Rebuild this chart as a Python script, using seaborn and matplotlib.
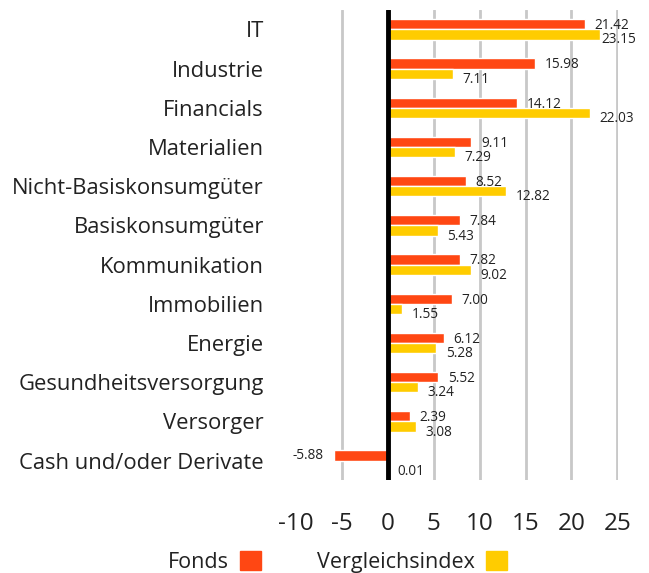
import numpy as np
import pandas as pd
import seaborn as sns
import matplotlib.pyplot as plt
from matplotlib.patches import Patch

sectors = ["IT", "Industrie", "Financials", "Materialien", "Nicht-Basiskonsumgüter",
           "Basiskonsumgüter", "Kommunikation", "Immobilien", "Energie",
           "Gesundheitsversorgung", "Versorger", "Cash und/oder Derivate"]
fonds = [21.42, 15.98, 14.12, 9.11, 8.52, 7.84, 7.82, 7.00, 6.12, 5.52, 2.39, -5.88]
index = [23.15, 7.11, 22.03, 7.29, 12.82, 5.43, 9.02, 1.55, 5.28, 3.24, 3.08, 0.01]
series = ["Fonds", "Vergleichsindex"]
colors = ["#FF4713", "#FFCC00"]

df = pd.DataFrame({
    "sector": sectors * 2,
    "value": fonds + index,
    "series": [series[0]] * len(sectors) + [series[1]] * len(sectors),
})

sns.set_style("white")
plt.rcParams['font.family'] = ['Open Sans', 'DejaVu Sans']
plt.rcParams['axes.unicode_minus'] = False

fig = plt.figure(figsize=(6.49, 5.73), dpi=100)
ax = fig.add_axes([0.456, 0.162, 0.496, 0.821])

sns.barplot(data=df, y="sector", x="value", hue="series", orient="h",
            palette=colors, width=0.52, ax=ax, legend=False, saturation=1)

ax.set_xlim(-10, 25.05)
ax.set_xticks(np.arange(-10, 30, 5))
ax.set_ylim(len(sectors) - 0.5, -0.5)
ax.grid(axis="x", color="#C8C8C8", linewidth=2)
ax.grid(axis="y", visible=False)
ax.xaxis.get_gridlines()[0].set_visible(False)
ax.set_axisbelow(True)
ax.axvline(0, color="black", linewidth=3.5, zorder=5)
for s in ax.spines.values():
    s.set_visible(False)
ax.set_xlabel("")
ax.set_ylabel("")
ax.tick_params(axis="y", length=0, pad=23, labelsize=15.8, labelcolor="#222222")
ax.tick_params(axis="x", length=0, pad=23, labelsize=17.5, labelcolor="#222222")

# value labels
for i in range(len(sectors)):
    f = fonds[i]
    if f >= 0:
        ax.annotate(f"{f:.2f}", (f, i - 0.13), xytext=(7, -1), textcoords="offset points",
                    ha="left", va="center", fontsize=9.8, color="#222222")
    else:
        ax.annotate(f"{f:.2f}", (f, i - 0.13), xytext=(-7, 0), textcoords="offset points",
                    ha="right", va="center", fontsize=9.8, color="#222222")
    v = index[i]
    off = 7 if v < 22.5 else 1
    ax.annotate(f"{v:.2f}", (v, i + 0.13), xytext=(off, -4), textcoords="offset points",
                ha="left", va="center", fontsize=9.8, color="#222222")

handles = [Patch(color=colors[0], label=series[0]), Patch(color=colors[1], label=series[1])]
fig.legend(handles=handles, loc="lower center", bbox_to_anchor=(0.52, -0.033), ncol=2,
           frameon=False, markerfirst=False, fontsize=15.5, handlelength=1.0,
           handleheight=1.0, columnspacing=2.6, handletextpad=0.5, labelcolor="#222222")

fig.savefig("out.png", dpi=100)
